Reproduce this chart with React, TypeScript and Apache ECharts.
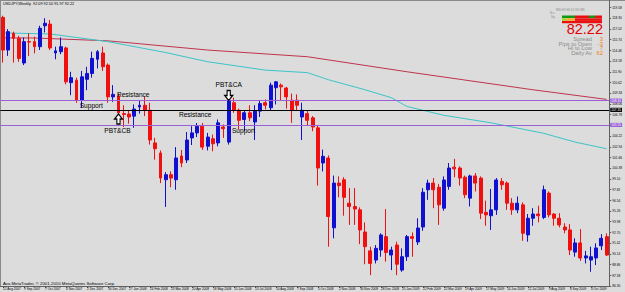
import React, { useEffect, useRef } from "react";
import * as echarts from "echarts";

const MONTHS = ["Jan", "Feb", "Mar", "Apr", "May", "Jun", "Jul", "Aug", "Sep", "Oct", "Nov", "Dec"];
// weekly bars starting 12 Aug 2007 (116 bars)
const weekDates: string[] = Array.from({ length: 116 }, (_, i) => {
  const d = new Date(Date.UTC(2007, 7, 12 + 7 * i));
  return `${d.getUTCDate()} ${MONTHS[d.getUTCMonth()]} ${d.getUTCFullYear()}`;
});

const opens = [
  118.4, 114.5, 116.5, 115.9, 112.95, 115.5, 115.5, 114.9, 117.4, 117.6,
  114.15, 114.3, 114.75, 110.6, 110.9, 108.5, 111.0, 111.7, 113.4, 114.15,
  112.7, 108.9, 109.0, 106.9, 106.85, 106.6, 107.7, 107.9, 107.3, 103.4,
  102.2, 99.0, 99.6, 99.0, 101.84, 101.36, 104.0, 104.6, 105.4, 103.0,
  103.9, 103.4, 105.3, 103.5, 108.2, 107.3, 106.2, 107.0, 105.9, 107.2,
  108.2, 107.6, 110.0, 110.3, 109.96, 108.5, 108.5, 106.5, 106.9, 106.4,
  105.2, 101.0, 101.6, 93.25, 98.6, 99.0, 96.2, 95.8, 95.4, 92.75,
  90.5, 89.4, 90.6, 92.2, 90.0, 91.2, 88.2, 89.8, 92.2, 91.56,
  93.35, 97.8, 98.6, 98.1, 95.6, 98.2, 100.5, 100.4, 99.3, 96.8,
  99.45, 99.2, 95.1, 94.7, 95.4, 98.8, 98.6, 96.2, 95.4, 96.0,
  92.4, 94.4, 94.9, 94.5, 97.4, 94.9, 94.4, 93.35, 93.0, 90.35,
  91.45, 89.65, 89.4, 89.65, 91.1, 92.2,
];
const closes = [
  114.5, 116.7, 115.9, 113.5, 115.5, 115.45, 114.9, 117.1, 117.7, 114.75,
  114.4, 114.9, 110.7, 111.2, 108.5, 111.3, 111.7, 113.5, 114.3, 112.5,
  108.9, 109.2, 107.0, 106.8, 106.5, 107.45, 107.9, 107.3, 103.75, 102.7,
  99.2, 99.6, 99.2, 101.6, 101.0, 103.75, 104.6, 105.4, 102.9, 104.1,
  103.3, 105.8, 105.1, 108.5, 107.3, 106.1, 107.0, 106.4, 107.2, 108.1,
  107.9, 110.3, 110.7, 110.1, 108.9, 107.3, 107.9, 107.3, 106.1, 105.3,
  100.4, 101.8, 94.6, 98.6, 98.3, 96.9, 95.8, 95.5, 93.0, 91.0,
  89.0, 90.8, 92.4, 90.3, 90.6, 88.9, 89.8, 92.2, 92.0, 93.23,
  97.5, 98.6, 97.8, 96.0, 98.97, 100.4, 100.3, 99.2, 97.2, 99.45,
  98.6, 95.0, 94.8, 95.4, 98.97, 98.4, 96.2, 95.4, 96.2, 92.6,
  94.4, 94.9, 94.7, 97.8, 94.8, 94.4, 93.6, 93.0, 90.6, 91.45,
  89.65, 89.9, 89.8, 90.85, 92.0, 90.0,
];
const lows = [
  113.0, 113.8, 113.0, 113.1, 112.7, 113.8, 114.1, 114.5, 116.6, 114.5,
  113.4, 114.0, 110.4, 109.1, 108.2, 107.6, 109.7, 111.2, 112.3, 112.0,
  108.2, 108.3, 106.7, 105.3, 105.7, 105.2, 106.9, 106.6, 103.2, 101.4,
  98.6, 95.75, 98.1, 97.8, 100.5, 101.0, 103.15, 104.1, 102.56, 102.5,
  102.4, 103.0, 104.0, 103.2, 107.0, 105.0, 104.8, 106.0, 103.75, 106.5,
  107.4, 107.3, 108.0, 108.5, 107.5, 105.8, 107.3, 103.75, 105.5, 104.8,
  98.3, 100.0, 91.0, 92.0, 96.9, 94.7, 93.6, 93.6, 91.3, 88.9,
  87.6, 89.0, 89.8, 89.2, 88.2, 87.6, 88.0, 89.3, 89.8, 91.2,
  92.9, 96.6, 95.6, 93.6, 95.3, 97.8, 99.3, 98.3, 96.8, 95.8,
  97.6, 94.3, 93.5, 93.0, 94.8, 97.8, 95.4, 94.8, 95.0, 91.7,
  91.6, 93.5, 93.9, 94.3, 94.5, 93.5, 93.3, 92.6, 90.0, 89.8,
  89.3, 89.0, 88.0, 88.8, 90.6, 89.9,
];
const highs = [
  118.6, 117.0, 116.7, 116.2, 116.0, 116.5, 116.1, 117.4, 118.3, 118.1,
  114.9, 116.0, 114.9, 111.9, 111.2, 112.0, 112.5, 114.3, 114.5, 114.9,
  112.9, 110.3, 109.3, 107.9, 107.3, 108.0, 108.5, 108.9, 108.2, 104.0,
  102.5, 99.9, 100.0, 102.9, 102.56, 104.7, 105.4, 105.78, 105.78, 104.6,
  104.4, 106.2, 105.6, 108.6, 108.8, 107.5, 107.3, 107.9, 107.9, 108.5,
  108.6, 110.6, 110.8, 110.5, 110.1, 109.3, 109.2, 108.2, 107.3, 106.6,
  105.5, 102.6, 101.9, 99.5, 99.4, 99.3, 98.0, 98.0, 95.7, 93.9,
  91.0, 91.2, 92.6, 95.5, 91.0, 91.6, 90.8, 92.4, 92.7, 94.4,
  98.0, 99.0, 99.2, 98.5, 99.4, 101.0, 101.5, 100.6, 99.5, 99.6,
  99.8, 99.4, 96.5, 97.9, 99.2, 99.2, 98.8, 96.8, 97.0, 96.3,
  94.9, 95.6, 95.9, 98.3, 97.6, 95.0, 95.0, 93.8, 93.7, 92.0,
  93.1, 90.5, 91.0, 91.4, 92.5, 92.6,
];

// moving averages at a few bars (joined by straight segments)
const maSlowIdx = [0, 6, 20, 39, 58, 77, 101, 115];
const maSlowVal = [115.95, 115.94, 115.6, 114.5, 113.7, 111.9, 109.75, 108.6];
const maFastIdx = [0, 9, 20, 31, 39, 50, 58, 62, 69, 74, 77, 84, 93, 103, 109, 115];
const maFastVal = [116.55, 116.42, 115.5, 114.2, 113.1, 112.1, 111.8, 110.95, 109.75, 108.8, 107.75, 106.7, 105.8, 104.55, 103.5, 102.7];

const priceTicks = [
  86.3, 87.58, 88.86, 90.14, 91.42, 92.7, 93.98, 95.26, 96.54, 97.82,
  99.1, 100.38, 101.66, 102.94, 104.22, 105.5, 106.78, 108.06, 109.34, 110.62,
  111.9, 113.18, 114.46, 115.74, 117.02, 118.3, 119.58,
];

const hLineValues = [108.45, 107.35, 105.55];
const hLineColors = ["#9a5fd6", "#000000", "#9a5fd6"];

const notes = [
  { text: "Resistance", idx: 25, price: 109.13, dx: -1 },
  { text: "Support", idx: 17, price: 107.87, dx: -1 },
  { text: "PBT&CB", idx: 22, price: 104.89, dx: -1 },
  { text: "Resistance", idx: 37, price: 106.8, dx: -2 },
  { text: "PBT&CA", idx: 43, price: 110.44, dx: 0 },
  { text: "Support", idx: 46, price: 104.89, dx: -1 },
];
const arrows = [
  { idx: 22, price: 106.26, dir: "up" },
  { idx: 43, price: 109.07, dir: "down" },
];

const panelRows = [
  { key: "Spread", val: "3", y: 39.0 },
  { key: "Pips to Open", val: "-3", y: 43.5 },
  { key: "Hi to Low", val: "7", y: 48.0 },
  { key: "Daily Av", val: "62", y: 52.5 },
];

const FONT = "'Liberation Sans', Arial, sans-serif";
const BG = "#dcdcdc";
const BULL = "#1010d0";
const BEAR = "#f01010";

export default function App() {
  const ref = useRef<HTMLDivElement>(null);
  useEffect(() => {
    if (!ref.current) return;
    const chart = echarts.init(ref.current, undefined, { renderer: "svg" });
    const arrowPath = "path://M5,0 L10,5 L7,5 L7,10 L3,10 L3,5 L0,5 Z";
    const option: any = {
      animation: false,
      backgroundColor: BG,
      grid: { left: -1, right: 13, top: 0, bottom: 6, containLabel: false },
      xAxis: {
        type: "category",
        data: weekDates,
        boundaryGap: true,
        axisLine: { lineStyle: { color: "#606060", width: 1 } },
        axisTick: { show: true, interval: 3, alignWithLabel: true, length: 2, lineStyle: { color: "#606060" } },
        axisLabel: {
          interval: 3,
          align: "left",
          margin: 1.5,
          fontSize: 3.2,
          color: "#000",
          fontFamily: FONT,
          hideOverlap: false,
        },
        splitLine: { show: false },
      },
      yAxis: {
        type: "value",
        position: "right",
        min: 86.3,
        max: 120.48,
        scale: true,
        axisLine: { show: true, lineStyle: { color: "#606060", width: 1 } },
        axisTick: { show: true, length: 2, customValues: priceTicks, lineStyle: { color: "#606060" } },
        axisLabel: {
          customValues: priceTicks,
          formatter: (v: number) => v.toFixed(2),
          fontSize: 3.2,
          margin: 3,
          color: "#000",
          fontFamily: FONT,
        },
        splitLine: { show: false },
      },
      series: [
        {
          type: "line",
          data: maSlowIdx.map((i, k) => [i, maSlowVal[k]]),
          showSymbol: false,
          symbol: "none",
          lineStyle: { color: "#c0344e", width: 1 },
          z: 1,
        },
        {
          type: "line",
          data: maFastIdx.map((i, k) => [i, maFastVal[k]]),
          showSymbol: false,
          symbol: "none",
          lineStyle: { color: "#3cc4c8", width: 1 },
          z: 1,
        },
        {
          type: "candlestick",
          data: opens.map((o, i) => [o, closes[i], lows[i], highs[i]]),
          barWidth: 3.4,
          itemStyle: {
            color: BULL,
            color0: BEAR,
            borderColor: BULL,
            borderColor0: BEAR,
            borderWidth: 1,
          },
          z: 3,
          markLine: {
            silent: true,
            symbol: "none",
            animation: false,
            data: hLineValues.map((v, k) => ({
              yAxis: v,
              lineStyle: { color: hLineColors[k], width: 1, type: "solid" },
              label: {
                show: true,
                position: "end",
                distance: 1,
                formatter: v.toFixed(2),
                fontSize: 3.2,
                color: "#fff",
                backgroundColor: hLineColors[k],
                padding: [0.6, 1],
                fontFamily: FONT,
              },
            })),
          },
          markPoint: {
            silent: true,
            animation: false,
            data: [
              ...notes.map((n) => ({
                coord: [n.idx, n.price],
                symbol: "rect",
                symbolSize: 0.01,
                itemStyle: { color: "transparent" },
                label: {
                  show: true,
                  position: "inside",
                  offset: [n.dx, 0],
                  formatter: n.text,
                  fontSize: 6.6,
                  color: "#000",
                  fontFamily: FONT,
                },
              })),
              ...arrows.map((a) => ({
                coord: [a.idx, a.price],
                symbol: arrowPath,
                symbolSize: [8, 10],
                symbolRotate: a.dir === "up" ? 0 : 180,
                itemStyle: { color: "#ffffff", borderColor: "#000", borderWidth: 1.2 },
                label: { show: false },
              })),
            ],
          },
        },
      ],
      graphic: [
        { type: "line", shape: { x1: 0, y1: 0.5, x2: 625, y2: 0.5 }, style: { stroke: "#8a8a8a", lineWidth: 1 } },
        { type: "line", shape: { x1: 0.5, y1: 0, x2: 0.5, y2: 286 }, style: { stroke: "#8a8a8a", lineWidth: 1 } },
        {
          type: "text", x: 3, y: 2,
          style: { text: "USDJPY,Weekly  92.09 92.50 91.97 92.22", fontSize: 3.8, fill: "#000", fontFamily: FONT },
        },
        {
          type: "text", x: 3, y: 281,
          style: { text: "Ava MetaTrader, \u00a9 2001-2010 MetaQuotes Software Corp.", fontSize: 4.3, fill: "#000", fontFamily: FONT },
        },
        // top-right indicator panel
        { type: "text", x: 556, y: 8, style: { text: "M30 H1 H4 D1 W1 MN", fontSize: 2.8, fill: "#888", fontFamily: FONT } },
        { type: "text", x: 550, y: 12, style: { text: "Ncs", fontSize: 2.6, fill: "#888", fontFamily: FONT } },
        { type: "text", x: 551, y: 16, style: { text: "Sig", fontSize: 2.6, fill: "#888", fontFamily: FONT } },
        { type: "rect", shape: { x: 562, y: 15.5, width: 13, height: 2.6 }, style: { fill: "#119911" } },
        { type: "rect", shape: { x: 575, y: 15.5, width: 14, height: 2.6 }, style: { fill: "#e81010" } },
        { type: "rect", shape: { x: 589, y: 15.5, width: 6, height: 2.6 }, style: { fill: "#119911" } },
        { type: "rect", shape: { x: 595, y: 15.5, width: 7, height: 2.6 }, style: { fill: "#e81010" } },
        { type: "rect", shape: { x: 562, y: 18.3, width: 4, height: 2.6 }, style: { fill: "#99dd22" } },
        { type: "rect", shape: { x: 566, y: 18.3, width: 9, height: 2.6 }, style: { fill: "#ffaa33" } },
        { type: "rect", shape: { x: 575, y: 18.3, width: 27, height: 2.6 }, style: { fill: "#e81010" } },
        { type: "rect", shape: { x: 562, y: 21.1, width: 40, height: 2.2 }, style: { fill: "#e81010" } },
        {
          type: "text", x: 603, y: 29.2,
          style: { text: "82.22", fontSize: 14.5, lineHeight: 10, fill: "#e00000", fontFamily: FONT, textAlign: "right", textVerticalAlign: "middle" },
        },
        ...panelRows.flatMap((r) => [
          {
            type: "text", x: 592, y: r.y,
            style: { text: r.key, fontSize: 5.8, lineHeight: 4.4, fill: "#8c8c8c", fontFamily: FONT, textAlign: "right", textVerticalAlign: "middle" },
          },
          {
            type: "text", x: 603, y: r.y,
            style: { text: r.val, fontSize: 5.8, lineHeight: 4.4, fill: "#f08010", fontFamily: FONT, textAlign: "right", textVerticalAlign: "middle" },
          },
        ]),
      ],
    };
    chart.setOption(option);
    return () => chart.dispose();
  }, []);
  return <div ref={ref} style={{ position: "fixed", left: 0, top: 0, width: 625, height: 292 }} />;
}
